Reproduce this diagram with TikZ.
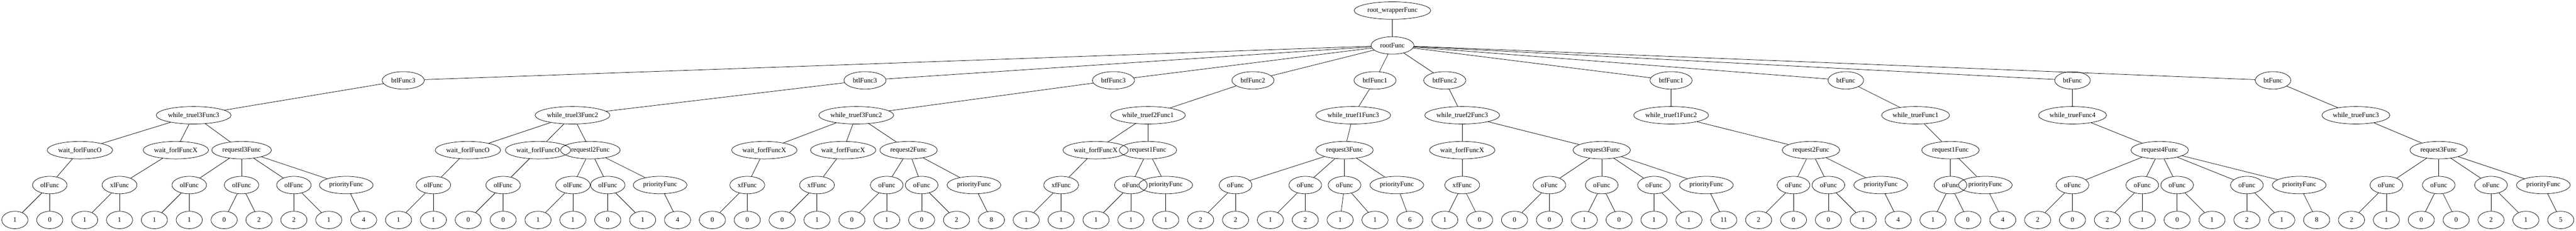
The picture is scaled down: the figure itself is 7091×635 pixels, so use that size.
\documentclass[tikz,border=0pt]{standalone}
\usepackage{fontspec}
\setmainfont{Liberation Serif}
\usetikzlibrary{shapes.geometric}
\tikzset{
 base/.style={ellipse, draw, line width=0.8pt, inner sep=0pt, minimum height=36pt, font=\fontsize{14}{16}\selectfont},
 leaf/.style={base, minimum width=54pt},
 olf/.style={base, minimum width=71.25pt},
 ofn/.style={base, minimum width=67.5pt},
 xfn/.style={base, minimum width=72pt},
 pri/.style={base, minimum width=111pt},
 reql/.style={base, minimum width=123pt},
 req/.style={base, minimum width=118.5pt},
 waitn/.style={base, minimum width=135pt},
 whl/.style={base, minimum width=154.5pt},
 whn/.style={base, minimum width=140.25pt},
 btl/.style={base, minimum width=87pt},
 btn/.style={base, minimum width=73.5pt},
 rootn/.style={base, minimum width=88.5pt},
 rwn/.style={base, minimum width=158.25pt},
 conn/.style={line width=0.8pt}
}
\begin{document}
\begin{tikzpicture}[x=0.75pt,y=-0.75pt]
\useasboundingbox (0,0) rectangle (7091,635);
% level 0-1
\node[rwn] (rw) at (3833,29) {root\_wrapperFunc};
\node[rootn] (rt) at (3833,125) {rootFunc};
% level 2
\node[btl] (d1) at (1110,221) {btlFunc3};
\node[btl] (d2) at (2381,221) {btlFunc3};
\node[btl] (d3) at (3065,221) {btfFunc3};
\node[btl] (d4) at (3449,221) {btfFunc2};
\node[btl] (d5) at (3785,221) {btfFunc1};
\node[btl] (d6) at (3977,221) {btfFunc2};
\node[btl] (d7) at (4600,221) {btfFunc1};
\node[btn] (d8) at (5081,221) {btFunc};
\node[btn] (d9) at (5705,221) {btFunc};
\node[btn] (d10) at (6257,221) {btFunc};
% level 3
\node[whl] (c1) at (533,317) {while\_truel3Func3};
\node[whl] (c2) at (1576,317) {while\_truel3Func2};
\node[whl] (c3) at (2357,317) {while\_truef3Func2};
\node[whl] (c4) at (3160,317) {while\_truef2Func1};
\node[whl] (c5) at (3725,317) {while\_truef1Func3};
\node[whl] (c6) at (4025,317) {while\_truef2Func3};
\node[whl] (c7) at (4600,317) {while\_truef1Func2};
\node[whn] (c8) at (5273,317) {while\_trueFunc1};
\node[whn] (c9) at (5705,317) {while\_trueFunc4};
\node[whn] (c10) at (6485,317) {while\_trueFunc3};
% level 4
\node[waitn] (b1) at (220,413) {wait\_forlFuncO};
\node[waitn] (b2) at (484,413) {wait\_forlFuncX};
\node[reql] (b3) at (665,413) {requestl3Func};
\node[waitn] (b4) at (1288,413) {wait\_forlFuncO};
\node[waitn] (b5) at (1481,413) {wait\_forlFuncO};
\node[reql] (b6) at (1625,413) {requestl2Func};
\node[waitn] (b7) at (2104,413) {wait\_forfFuncX};
\node[waitn] (b8) at (2321,413) {wait\_forfFuncX};
\node[req] (b9) at (2501,413) {request2Func};
\node[waitn] (b10) at (3016,413) {wait\_forfFuncX};
\node[req] (b11) at (3160,413) {request1Func};
\node[req] (b12) at (3701,413) {request3Func};
\node[waitn] (b13) at (4025,413) {wait\_forfFuncX};
\node[req] (b14) at (4409,413) {request3Func};
\node[req] (b15) at (4985,413) {request2Func};
\node[req] (b16) at (5369,413) {request1Func};
\node[req] (b17) at (5945,413) {request4Func};
\node[req] (b18) at (6713,413) {request3Func};
% level 5
\node[olf] (a1) at (137,509) {olFunc};
\node[xfn] (a2) at (329,509) {xlFunc};
\node[olf] (a3) at (521,509) {olFunc};
\node[olf] (a4) at (665,509) {olFunc};
\node[olf] (a5) at (809,509) {olFunc};
\node[pri] (a6) at (953,509) {priorityFunc};
\node[olf] (a7) at (1193,509) {olFunc};
\node[olf] (a8) at (1385,509) {olFunc};
\node[olf] (a9) at (1577,509) {olFunc};
\node[olf] (a10) at (1673,509) {olFunc};
\node[pri] (a11) at (1817,509) {priorityFunc};
\node[xfn] (a12) at (2057,509) {xfFunc};
\node[xfn] (a13) at (2249,509) {xfFunc};
\node[ofn] (a14) at (2441,509) {oFunc};
\node[ofn] (a15) at (2537,509) {oFunc};
\node[pri] (a16) at (2681,509) {priorityFunc};
\node[xfn] (a17) at (2921,509) {xfFunc};
\node[ofn] (a18) at (3113,509) {oFunc};
\node[pri] (a19) at (3209,509) {priorityFunc};
\node[ofn] (a20) at (3401,509) {oFunc};
\node[ofn] (a21) at (3593,509) {oFunc};
\node[ofn] (a22) at (3701,509) {oFunc};
\node[pri] (a23) at (3845,509) {priorityFunc};
\node[xfn] (a24) at (4025,509) {xfFunc};
\node[ofn] (a25) at (4265,509) {oFunc};
\node[ofn] (a26) at (4409,509) {oFunc};
\node[ofn] (a27) at (4553,509) {oFunc};
\node[pri] (a28) at (4697,509) {priorityFunc};
\node[ofn] (a29) at (4937,509) {oFunc};
\node[ofn] (a30) at (5033,509) {oFunc};
\node[pri] (a31) at (5177,509) {priorityFunc};
\node[ofn] (a32) at (5369,509) {oFunc};
\node[pri] (a33) at (5465,509) {priorityFunc};
\node[ofn] (a34) at (5705,509) {oFunc};
\node[ofn] (a35) at (5897,509) {oFunc};
\node[ofn] (a36) at (5993,509) {oFunc};
\node[ofn] (a37) at (6185,509) {oFunc};
\node[pri] (a38) at (6329,509) {priorityFunc};
\node[ofn] (a39) at (6569,509) {oFunc};
\node[ofn] (a40) at (6713,509) {oFunc};
\node[ofn] (a41) at (6857,509) {oFunc};
\node[pri] (a42) at (7001,509) {priorityFunc};
% level 6 leaves
\foreach \v [count=\i from 0] in {1,0,1,1,1,1,0,2,2,1,4,1,1,0,0,1,1,0,1,4,0,0,0,1,0,1,0,2,8,1,1,1,1,1,2,2,1,2,1,1,6,1,0,0,0,1,0,1,1,11,2,0,0,1,4,1,0,4,2,0,2,1,0,1,2,1,8,2,1,0,0,2,1,5}
  {\node[leaf] (k\i) at ({41+96*\i},605) {\v};}
% connectors
\foreach \p/\c in {rw/rt,
  rt/d1,rt/d2,rt/d3,rt/d4,rt/d5,rt/d6,rt/d7,rt/d8,rt/d9,rt/d10,
  d1/c1,d2/c2,d3/c3,d4/c4,d5/c5,d6/c6,d7/c7,d8/c8,d9/c9,d10/c10,
  c1/b1,c1/b2,c1/b3,c2/b4,c2/b5,c2/b6,c3/b7,c3/b8,c3/b9,c4/b10,c4/b11,
  c5/b12,c6/b13,c6/b14,c7/b15,c8/b16,c9/b17,c10/b18,
  b1/a1,b2/a2,b3/a3,b3/a4,b3/a5,b3/a6,b4/a7,b5/a8,b6/a9,b6/a10,b6/a11,
  b7/a12,b8/a13,b9/a14,b9/a15,b9/a16,b10/a17,b11/a18,b11/a19,
  b12/a20,b12/a21,b12/a22,b12/a23,b13/a24,b14/a25,b14/a26,b14/a27,b14/a28,
  b15/a29,b15/a30,b15/a31,b16/a32,b16/a33,
  b17/a34,b17/a35,b17/a36,b17/a37,b17/a38,b18/a39,b18/a40,b18/a41,b18/a42,
  a1/k0,a1/k1,a2/k2,a2/k3,a3/k4,a3/k5,a4/k6,a4/k7,a5/k8,a5/k9,a6/k10,
  a7/k11,a7/k12,a8/k13,a8/k14,a9/k15,a9/k16,a10/k17,a10/k18,a11/k19,
  a12/k20,a12/k21,a13/k22,a13/k23,a14/k24,a14/k25,a15/k26,a15/k27,a16/k28,
  a17/k29,a17/k30,a18/k31,a18/k32,a19/k33,a20/k34,a20/k35,a21/k36,a21/k37,
  a22/k38,a22/k39,a23/k40,a24/k41,a24/k42,a25/k43,a25/k44,a26/k45,a26/k46,
  a27/k47,a27/k48,a28/k49,a29/k50,a29/k51,a30/k52,a30/k53,a31/k54,
  a32/k55,a32/k56,a33/k57,a34/k58,a34/k59,a35/k60,a35/k61,a36/k62,a36/k63,
  a37/k64,a37/k65,a38/k66,a39/k67,a39/k68,a40/k69,a40/k70,a41/k71,a41/k72,a42/k73}
  {\draw[conn] (\p) -- (\c);}
\end{tikzpicture}
\end{document}
